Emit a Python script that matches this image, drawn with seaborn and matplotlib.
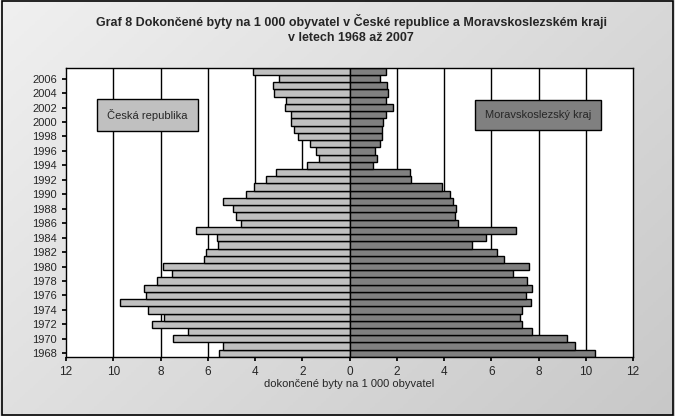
import matplotlib
matplotlib.use("Agg")
import matplotlib.pyplot as plt
import seaborn as sns
import pandas as pd
import numpy as np

years = list(range(1968, 2008))
cr = [5.53, 5.36, 7.49, 6.85, 8.34, 7.84, 8.55, 9.70, 8.60, 8.70,
      8.13, 7.53, 7.89, 6.17, 6.09, 5.57, 5.63, 6.51, 4.60, 4.81,
      4.94, 5.36, 4.38, 4.04, 3.53, 3.11, 1.79, 1.28, 1.40, 1.66,
      2.17, 2.34, 2.48, 2.48, 2.74, 2.68, 3.19, 3.23, 2.98, 4.09]
msk = [10.41, 9.56, 9.22, 7.73, 7.30, 7.22, 7.30, 7.69, 7.48, 7.73,
       7.52, 6.92, 7.60, 6.54, 6.24, 5.18, 5.77, 7.05, 4.58, 4.45,
       4.50, 4.37, 4.24, 3.90, 2.62, 2.54, 1.01, 1.18, 1.09, 1.30,
       1.39, 1.39, 1.43, 1.56, 1.82, 1.56, 1.65, 1.60, 1.30, 1.56]
xticks = [-12, -10, -8, -6, -4, -2, 0, 2, 4, 6, 8, 10, 12]

sns.set_theme(style="white")
plt.rcParams['font.family'] = ['Liberation Sans', 'DejaVu Sans']

df_l = pd.DataFrame({"rok": years, "v": [-v for v in cr]})
df_r = pd.DataFrame({"rok": years, "v": msk})

fig = plt.figure(figsize=(6.75, 4.16), dpi=100)
bg = fig.add_axes([0, 0, 1, 1], zorder=-10)
grad = np.linspace(0, 1, 256)[None, :] * 0.6 + np.linspace(0, 1, 256)[:, None] * 0.4
bg.imshow(grad, cmap=matplotlib.colors.LinearSegmentedColormap.from_list("g", ["#f0f0f0", "#c8c8c8"]),
          aspect="auto", extent=[0, 1, 0, 1])
bg.set_axis_off()
fig.patches.append(plt.Rectangle((0.003, 0.003), 0.994, 0.994, transform=fig.transFigure,
                                 fill=False, edgecolor="black", lw=1.2))

ax = fig.add_axes([0.0978, 0.142, 0.840, 0.695])
ax.set_facecolor("white")
for x in range(-10, 12, 2):
    ax.axvline(x, color="black", lw=1, zorder=0)
sns.barplot(data=df_l, x="v", y="rok", orient="h", native_scale=True, width=1.0,
            color="#c0c0c0", saturation=1, edgecolor="black", linewidth=1, ax=ax, zorder=2)
sns.barplot(data=df_r, x="v", y="rok", orient="h", native_scale=True, width=1.0,
            color="#808080", saturation=1, edgecolor="black", linewidth=1, ax=ax, zorder=2)
ax.set_xlim(-12, 12)
ax.set_ylim(1967.5, 2007.5)
ax.set_xticks(xticks)
ax.set_xticklabels([str(abs(t)) for t in xticks], fontsize=8.5)
ax.set_yticks(list(range(1968, 2008, 2)))
ax.set_yticklabels([str(y) for y in range(1968, 2008, 2)], fontsize=8)
ax.tick_params(axis="both", length=3, color="black", direction="out", bottom=True, left=True)
ax.set_xlabel("dokončené byty na 1 000 obyvatel", fontsize=8, labelpad=1)
ax.set_ylabel("")
for s in ax.spines.values():
    s.set_color("black"); s.set_linewidth(1)

ax.text(-8.55, 2001.0, "Česká republika", fontsize=8, ha="center", va="center",
        bbox=dict(boxstyle="square,pad=0.9", fc="#c0c0c0", ec="black", lw=1), zorder=5)
ax.text(7.97, 2001.0, "Moravskoslezský kraj", fontsize=8, ha="center", va="center",
        bbox=dict(boxstyle="square,pad=0.9", fc="#808080", ec="black", lw=1), zorder=5)

fig.text(0.52, 0.93, "Graf 8 Dokončené byty na 1 000 obyvatel v České republice a Moravskoslezském kraji\nv letech 1968 až 2007",
         ha="center", va="center", fontsize=9, fontweight="bold", linespacing=1.3)
fig.savefig("out.png", dpi=100)
